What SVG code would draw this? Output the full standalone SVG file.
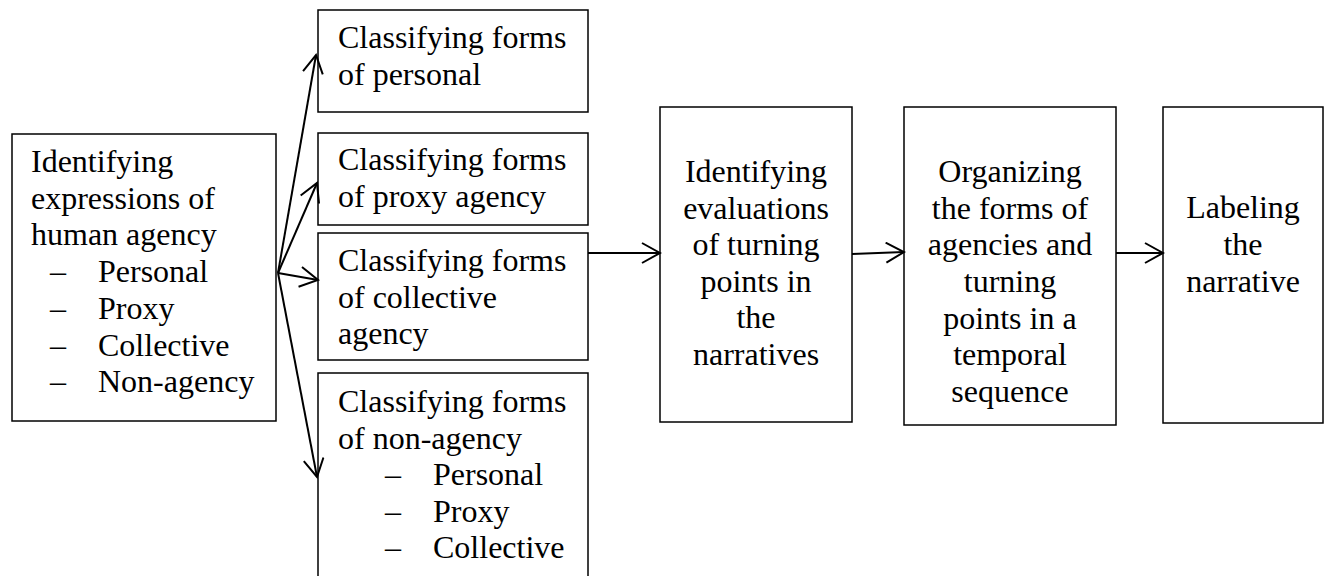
<svg xmlns="http://www.w3.org/2000/svg" width="1327" height="576" viewBox="0 0 1327 576">
<style>
rect{fill:#fff;stroke:#000;stroke-width:1.5}
text{font-family:"Liberation Serif","Times New Roman",serif;font-size:32px;fill:#000}
.c{text-anchor:middle}
.con line{stroke:#000;stroke-width:2;marker-end:url(#ah)}
</style>
<defs>
<marker id="ah" viewBox="0 0 22 22" refX="20" refY="11" markerWidth="22" markerHeight="22" markerUnits="userSpaceOnUse" orient="auto">
<path d="M2,1 L20,11 L2,21" fill="none" stroke="#000" stroke-width="2"/>
</marker>
</defs>
<rect width="1327" height="576" style="stroke:none"/>
<g id="n-identify">
<rect x="12" y="134" width="264" height="287"/>
<text x="31" y="172">Identifying</text>
<text x="31" y="208.7">expressions of</text>
<text x="31" y="245.4">human agency</text>
<text x="50" y="282">–</text><text x="98" y="282">Personal</text>
<text x="50" y="318.8">–</text><text x="98" y="318.8">Proxy</text>
<text x="50" y="355.5">–</text><text x="98" y="355.5">Collective</text>
<text x="50" y="392.2">–</text><text x="98" y="392.2">Non-agency</text>
</g>
<g id="n-personal">
<rect x="318" y="10" width="270" height="102"/>
<text x="338" y="48">Classifying forms</text>
<text x="338" y="85">of personal</text>
</g>
<g id="n-proxy">
<rect x="318" y="133" width="270" height="92"/>
<text x="338" y="170">Classifying forms</text>
<text x="338" y="207">of proxy agency</text>
</g>
<g id="n-collective">
<rect x="318" y="233" width="270" height="127"/>
<text x="338" y="271">Classifying forms</text>
<text x="338" y="307.5">of collective</text>
<text x="338" y="344">agency</text>
</g>
<g id="n-nonagency">
<rect x="318" y="373" width="270" height="230"/>
<text x="338" y="412">Classifying forms</text>
<text x="338" y="448.5">of non-agency</text>
<text x="385" y="485">–</text><text x="433" y="485">Personal</text>
<text x="385" y="521.5">–</text><text x="433" y="521.5">Proxy</text>
<text x="385" y="558">–</text><text x="433" y="558">Collective</text>
</g>
<g id="n-evaluations">
<rect x="660" y="107" width="192" height="315"/>
<text class="c" x="756" y="182">Identifying</text>
<text class="c" x="756" y="218.5">evaluations</text>
<text class="c" x="756" y="255">of turning</text>
<text class="c" x="756" y="291.7">points in</text>
<text class="c" x="756" y="328.3">the</text>
<text class="c" x="756" y="365">narratives</text>
</g>
<g id="n-organizing">
<rect x="904" y="107" width="212" height="318"/>
<text class="c" x="1010" y="182">Organizing</text>
<text class="c" x="1010" y="218.7">the forms of</text>
<text class="c" x="1010" y="255.3">agencies and</text>
<text class="c" x="1010" y="292">turning</text>
<text class="c" x="1010" y="328.7">points in a</text>
<text class="c" x="1010" y="365.3">temporal</text>
<text class="c" x="1010" y="402">sequence</text>
</g>
<g id="n-labeling">
<rect x="1163" y="107" width="160" height="316"/>
<text class="c" x="1243" y="218">Labeling</text>
<text class="c" x="1243" y="255">the</text>
<text class="c" x="1243" y="292">narrative</text>
</g>
<g id="connectors" class="con">
<line x1="278" y1="273" x2="316" y2="55"/>
<line x1="278" y1="273" x2="317" y2="183"/>
<line x1="278" y1="273" x2="318" y2="280"/>
<line x1="278" y1="273" x2="317" y2="477"/>
<line x1="588" y1="253" x2="660" y2="253"/>
<line x1="852" y1="254" x2="904" y2="252"/>
<line x1="1116" y1="253" x2="1163" y2="253"/>
</g>
</svg>
